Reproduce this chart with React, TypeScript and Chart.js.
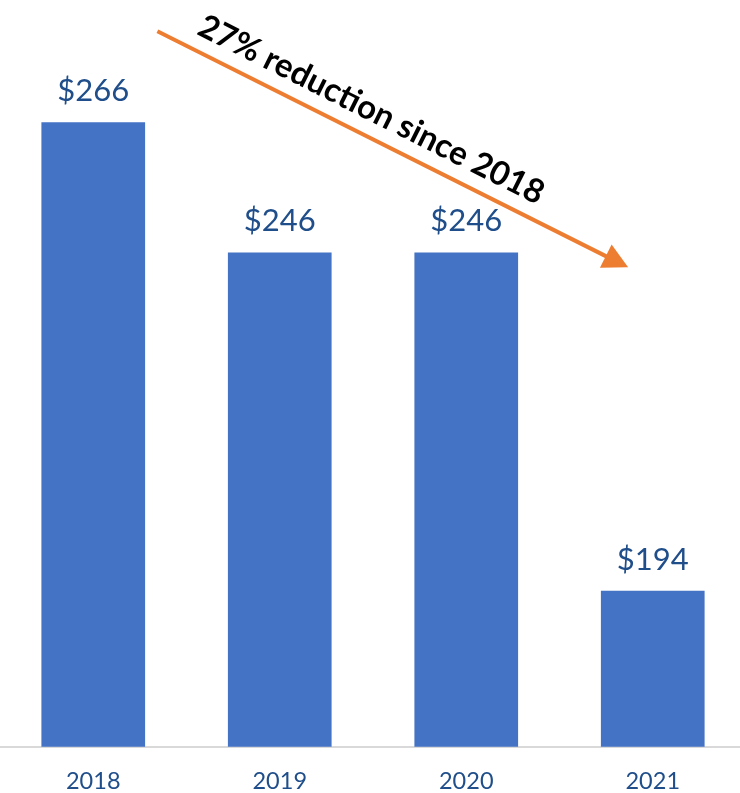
import React, { useEffect, useRef } from 'react';
import { Chart, registerables, Plugin } from 'chart.js';
Chart.register(...registerables);

const years = ['2018', '2019', '2020', '2021'];
const costs = [266, 246, 246, 194];
const noteText = '27% reduction since 2018';

const BLUE = '#4472C4';
const LABEL = '#1F4E8A';
const ORANGE = '#ED7D31';

// value labels above each bar
const valueLabels: Plugin<'bar'> = {
  id: 'valueLabels',
  afterDatasetsDraw(chart) {
    const { ctx } = chart;
    const meta = chart.getDatasetMeta(0);
    ctx.save();
    ctx.fillStyle = LABEL;
    ctx.font = '31px Lato';
    ctx.textAlign = 'center';
    ctx.textBaseline = 'alphabetic';
    meta.data.forEach((bar, i) => {
      ctx.fillText('$' + costs[i], bar.x, bar.y - 21);
    });
    ctx.restore();
  },
};

// the orange trend arrow with its note
const trendArrow: Plugin<'bar'> = {
  id: 'trendArrow',
  afterDraw(chart) {
    const { ctx } = chart;
    const x = chart.scales.x;
    const y = chart.scales.y;
    const x0 = x.getPixelForValue(0.344);
    const y0 = y.getPixelForValue(280);
    const x1 = x.getPixelForValue(2.868);
    const y1 = y.getPixelForValue(243.7);
    const ang = Math.atan2(y1 - y0, x1 - x0);
    const len = Math.hypot(x1 - x0, y1 - y0);

    ctx.save();
    ctx.translate(x0, y0);
    ctx.rotate(ang);
    ctx.strokeStyle = ORANGE;
    ctx.fillStyle = ORANGE;
    ctx.lineWidth = 4;
    ctx.beginPath();
    ctx.moveTo(0, 0);
    ctx.lineTo(len - 20, 0);
    ctx.stroke();
    ctx.beginPath();
    ctx.moveTo(len, 0);
    ctx.lineTo(len - 25, -13);
    ctx.lineTo(len - 25, 13);
    ctx.closePath();
    ctx.fill();

    ctx.fillStyle = '#000000';
    ctx.font = 'bold 33px Lato';
    ctx.textAlign = 'center';
    ctx.textBaseline = 'alphabetic';
    ctx.fillText(noteText, len * 0.43, -15);
    ctx.restore();
  },
};

const App: React.FC = () => {
  const canvasRef = useRef<HTMLCanvasElement>(null);

  useEffect(() => {
    document.body.style.margin = '0';
    document.body.style.overflow = 'hidden';
    if (!canvasRef.current) return;
    const chart = new Chart(canvasRef.current, {
      type: 'bar',
      data: {
        labels: years,
        datasets: [
          {
            data: costs,
            backgroundColor: BLUE,
            barPercentage: 0.556,
            categoryPercentage: 1,
          },
        ],
      },
      options: {
        animation: false,
        responsive: true,
        maintainAspectRatio: false,
        layout: { padding: { top: 0, left: 0, right: 0, bottom: 1 } },
        plugins: {
          legend: { display: false },
          tooltip: { enabled: false },
        },
        scales: {
          x: {
            grid: { display: false },
            border: { display: true, color: '#D9D9D9', width: 2 },
            ticks: {
              color: LABEL,
              font: { family: 'Lato', size: 23.5 },
              padding: 13,
            },
          },
          y: {
            display: false,
            min: 170,
            max: 284.8,
          },
        },
      },
      plugins: [valueLabels, trendArrow],
    });
    return () => {
      chart.destroy();
    };
  }, []);

  return (
    <div style={{ position: 'relative', width: '746px', height: '810px' }}>
      <canvas ref={canvasRef}></canvas>
    </div>
  );
};

export default App;
